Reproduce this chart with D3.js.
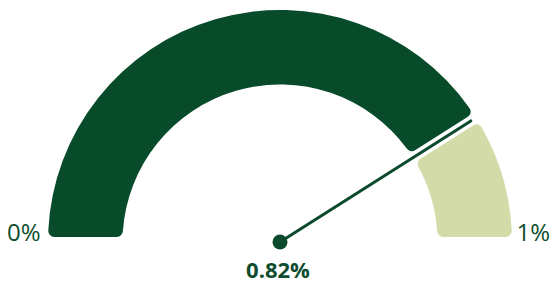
<!DOCTYPE html>
<html>
<head>
<meta charset="utf-8">
<script src="https://cdn.jsdelivr.net/npm/d3@7"></script>
<style>
  html, body { margin: 0; padding: 0; background: #ffffff; }
  svg { display: block; }
</style>
</head>
<body>
<svg id="chart" width="550" height="283"></svg>
<script>
// Data
const minValue = 0;
const maxValue = 1;
const currentValue = 0.82;
const tickLabels = ["0%", "1%"];
const valueLabel = "0.82%";
const segmentNames = ["value", "remaining"];

const W = 550, H = 283;
const cx = 280, cy = 242;
const outerR = 232, innerR = 157.5;

const svg = d3.select("#chart");
const g = svg.append("g").attr("transform", `translate(${cx},${cy})`);

const angle = d3.scaleLinear().domain([minValue, maxValue]).range([-Math.PI / 2, Math.PI / 2]);

const segments = [
  { name: segmentNames[0], from: minValue, to: currentValue, color: "#074b2b" },
  { name: segmentNames[1], from: currentValue, to: maxValue, color: "#d3dca8" }
];

const arc = d3.arc()
  .innerRadius(innerR)
  .outerRadius(outerR)
  .cornerRadius(6)
  .padAngle(0.036)
  .padRadius(Math.sqrt(innerR * innerR + outerR * outerR));

g.selectAll("path.seg")
  .data(segments)
  .join("path")
  .attr("class", "seg")
  .attr("d", d => arc({ startAngle: angle(d.from), endAngle: angle(d.to) }))
  .attr("fill", d => d.color);

// Needle
const a = angle(currentValue);
const needleLen = 226;
g.append("line")
  .attr("x1", 0).attr("y1", 0)
  .attr("x2", needleLen * Math.sin(a))
  .attr("y2", -needleLen * Math.cos(a))
  .attr("stroke", "#0b4a2c")
  .attr("stroke-width", 3)
  .attr("stroke-linecap", "round");
g.append("circle").attr("r", 7.5).attr("fill", "#0b4a2c");

// Labels
const fontFam = "'Open Sans', 'Noto Sans', sans-serif";
svg.append("text")
  .attr("x", 7).attr("y", 241)
  .attr("font-family", fontFam).attr("font-size", 24)
  .attr("fill", "#0d4d2d")
  .text(tickLabels[0]);
svg.append("text")
  .attr("x", 550).attr("y", 241)
  .attr("text-anchor", "end")
  .attr("font-family", fontFam).attr("font-size", 24)
  .attr("fill", "#0d4d2d")
  .text(tickLabels[1]);
svg.append("text")
  .attr("x", 278).attr("y", 278)
  .attr("text-anchor", "middle")
  .attr("font-family", fontFam).attr("font-size", 22).attr("font-weight", "bold")
  .attr("fill", "#0d4d2d")
  .text(valueLabel);
</script>
</body>
</html>
